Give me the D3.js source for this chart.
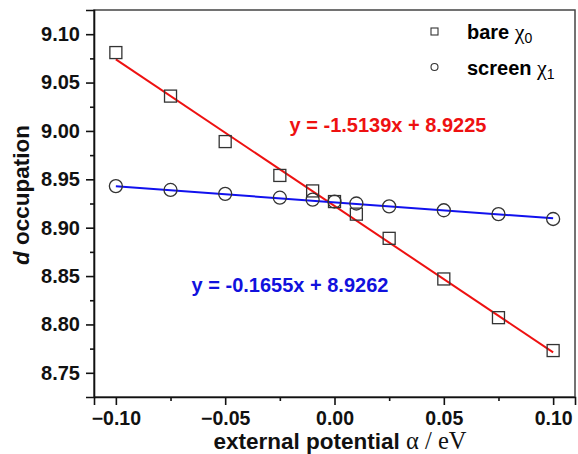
<!DOCTYPE html>
<html><head><meta charset="utf-8">
<script src="https://cdn.jsdelivr.net/npm/d3@7"></script>
<style>body{margin:0;background:#fff}svg{display:block}text{font-family:Arial,"Liberation Sans",sans-serif;font-weight:bold}</style>
</head><body><svg id="c" width="578" height="454"></svg>
<script>
const xVals = [-0.1, -0.075, -0.05, -0.025, -0.01, 0, 0.01, 0.025, 0.05, 0.075, 0.1];
const bareVals = [9.081, 9.036, 8.989, 8.954, 8.938, 8.927, 8.914, 8.889, 8.847, 8.807, 8.773];
const screenVals = [8.943, 8.939, 8.935, 8.931, 8.929, 8.927, 8.925, 8.922, 8.918, 8.914, 8.909];
const fitBare = {slope: -1.5139, intercept: 8.9225, label: "y = -1.5139x + 8.9225"};
const fitScreen = {slope: -0.1655, intercept: 8.9262, label: "y = -0.1655x + 8.9262"};
const xTicks = [-0.10, -0.05, 0.00, 0.05, 0.10];
const yTicks = [8.75, 8.80, 8.85, 8.90, 8.95, 9.00, 9.05, 9.10];

const svg = d3.select("#c");
const L = 94, R = 575, T = 10, B = 397;
const x = d3.scaleLinear().domain([-0.11, 0.11]).range([L, R]);
const y = d3.scaleLinear().domain([8.725, 9.125]).range([B, T]);

svg.append("rect").attr("x", L).attr("y", T).attr("width", R - L).attr("height", B - T)
  .attr("fill", "none").attr("stroke", "#444").attr("stroke-width", 1.5);

const xMinor = [-0.075, -0.025, 0.025, 0.075];
const yMinor = [8.775, 8.825, 8.875, 8.925, 8.975, 9.025, 9.075];

const xAxis = svg.append("g").attr("transform", `translate(0,${B})`)
  .call(d3.axisBottom(x).tickValues(xTicks).tickFormat(d3.format(".2f")).tickSize(8).tickPadding(6));
xAxis.selectAll("text").style("font-size", "19.5px").attr("fill", "#111");
svg.append("g").attr("transform", `translate(0,${B})`)
  .call(d3.axisBottom(x).tickValues(xMinor).tickFormat("").tickSize(4))
  .select(".domain").remove();

const yAxis = svg.append("g").attr("transform", `translate(${L},0)`)
  .call(d3.axisLeft(y).tickValues(yTicks).tickFormat(d3.format(".2f")).tickSize(8).tickPadding(6));
yAxis.selectAll("text").style("font-size", "20px").attr("fill", "#111");
svg.append("g").attr("transform", `translate(${L},0)`)
  .call(d3.axisLeft(y).tickValues(yMinor).tickFormat("").tickSize(4))
  .select(".domain").remove();

svg.selectAll(".domain, .tick line").attr("stroke", "#111").attr("stroke-width", 1.6);

const line = d3.line().x(d => x(d[0])).y(d => y(d[1]));
function fitPts(f){ return [-0.1, 0.1].map(v => [v, f.slope * v + f.intercept]); }
svg.append("path").attr("d", line(fitPts(fitBare))).attr("stroke", "#ee1111").attr("stroke-width", 2).attr("fill", "none");
svg.append("path").attr("d", line(fitPts(fitScreen))).attr("stroke", "#1111ee").attr("stroke-width", 2).attr("fill", "none");

const sq = 12;
svg.append("g").selectAll("rect").data(xVals).join("rect")
  .attr("x", (d) => x(d) - sq / 2).attr("y", (d, i) => y(bareVals[i]) - sq / 2)
  .attr("width", sq).attr("height", sq).attr("fill", "none").attr("stroke", "#333").attr("stroke-width", 1.3);
svg.append("g").selectAll("circle").data(xVals).join("circle")
  .attr("cx", d => x(d)).attr("cy", (d, i) => y(screenVals[i])).attr("r", 6.5)
  .attr("fill", "none").attr("stroke", "#333").attr("stroke-width", 1.3);

svg.append("text").attr("x", 388).attr("y", 132).attr("text-anchor", "middle")
  .attr("fill", "#ee1111").style("font-size", "20px").text(fitBare.label);
svg.append("text").attr("x", 290).attr("y", 292).attr("text-anchor", "middle")
  .attr("fill", "#1111dd").style("font-size", "20px").text(fitScreen.label);

const lg = svg.append("g");
lg.append("rect").attr("x", 431).attr("y", 28).attr("width", 7).attr("height", 7)
  .attr("fill", "none").attr("stroke", "#333").attr("stroke-width", 1.1);
lg.append("circle").attr("cx", 434.5).attr("cy", 67).attr("r", 3.5)
  .attr("fill", "none").attr("stroke", "#333").attr("stroke-width", 1.1);
const t1 = lg.append("text").attr("x", 467).attr("y", 39).style("font-size", "20px");
t1.append("tspan").text("bare ");
t1.append("tspan").style("font-family", "'Liberation Serif',serif").style("font-weight", "normal").style("font-size", "22px").text("χ");
t1.append("tspan").attr("dy", 4).style("font-weight", "normal").style("font-size", "14px").text("0");
const t2 = lg.append("text").attr("x", 467).attr("y", 75).style("font-size", "20px");
t2.append("tspan").text("screen ");
t2.append("tspan").style("font-family", "'Liberation Serif',serif").style("font-weight", "normal").style("font-size", "22px").text("χ");
t2.append("tspan").attr("dy", 4).style("font-weight", "normal").style("font-size", "14px").text("1");

const xt = svg.append("text").attr("x", 340).attr("y", 449).attr("text-anchor", "middle").style("font-size", "22.5px").attr("fill", "#111");
xt.append("tspan").text("external potential ");
xt.append("tspan").style("font-family", "'Liberation Serif',serif").style("font-weight", "normal").style("font-size", "24.5px").text("α / eV");

const yt = svg.append("text").attr("transform", "translate(29,195) rotate(-90)").attr("text-anchor", "middle").style("font-size", "22.5px").attr("fill", "#111");
yt.append("tspan").style("font-style", "italic").text("d");
yt.append("tspan").text(" occupation");
</script></body></html>
